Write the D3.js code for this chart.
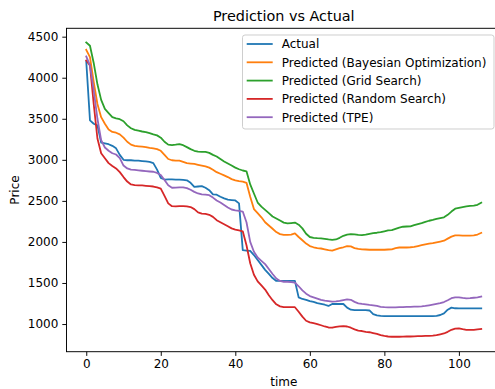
<!DOCTYPE html>
<html><head><meta charset="utf-8">
<script src="https://cdn.jsdelivr.net/npm/d3@7"></script>
<style>body{margin:0;background:#fff}svg{display:block;font-family:"DejaVu Sans",sans-serif}</style>
</head><body><svg id="c" width="495" height="389"></svg>
<script>
const seriesNames = ["Actual","Predicted (Bayesian Optimization)","Predicted (Grid Search)","Predicted (Random Search)","Predicted (TPE)"];
const colors = ["#1f77b4","#ff7f0e","#2ca02c","#d62728","#9467bd"];
const xTicks = [0,20,40,60,80,100];
const yTicks = [1000,1500,2000,2500,3000,3500,4000,4500];

const actual = [4200,3480,3440,3420,3210,3200,3190,3170,3140,3060,3000,2995,2995,2990,2990,2985,2980,2975,2960,2880,
2780,2760,2762,2762,2760,2760,2755,2750,2720,2670,2675,2680,2660,2630,2580,2575,2550,2530,2515,2510,
2505,2470,1900,1895,1890,1840,1780,1720,1660,1610,1560,1525,1525,1525,1525,1525,1525,1325,1305,1295,
1280,1270,1255,1245,1235,1220,1244,1244,1244,1244,1200,1175,1170,1170,1170,1170,1165,1120,1105,1100,
1097,1097,1096,1096,1096,1096,1096,1096,1096,1096,1096,1096,1097,1097,1100,1110,1130,1175,1200,1192,
1190,1190,1190,1190,1190,1190,1190];
const bayesian = [4340,4250,3950,3680,3520,3440,3370,3340,3330,3310,3270,3220,3185,3170,3165,3160,3155,3145,3140,3130,
3110,3060,3010,2995,2990,2990,2975,2960,2955,2950,2940,2930,2920,2905,2880,2850,2830,2810,2790,2765,
2750,2740,2735,2720,2550,2400,2350,2300,2240,2200,2160,2120,2095,2085,2085,2090,2105,2060,2020,1980,
1950,1935,1925,1920,1910,1900,1895,1910,1925,1935,1950,1945,1925,1915,1910,1908,1905,1905,1905,1905,
1905,1908,1910,1925,1932,1932,1932,1935,1940,1950,1960,1970,1978,1985,1995,2005,2015,2040,2065,2080,
2080,2078,2076,2076,2080,2090,2110];
const gridSearch = [4430,4390,4180,3920,3730,3620,3570,3520,3505,3495,3470,3420,3385,3365,3355,3345,3338,3325,3310,3298,
3270,3220,3185,3180,3185,3192,3178,3155,3130,3110,3100,3098,3098,3085,3060,3040,3010,2980,2955,2930,
2905,2885,2870,2860,2700,2590,2480,2430,2390,2350,2310,2285,2260,2235,2225,2230,2236,2210,2165,2100,
2060,2050,2046,2044,2038,2030,2024,2030,2050,2075,2090,2096,2092,2086,2084,2088,2098,2108,2112,2120,
2130,2140,2145,2160,2175,2185,2188,2190,2205,2218,2230,2245,2258,2268,2280,2290,2300,2330,2370,2405,
2415,2425,2432,2438,2443,2452,2478];
const randomSearch = [4210,4150,3680,3260,3080,3020,2960,2925,2895,2850,2790,2735,2700,2693,2690,2688,2684,2680,2675,2665,
2650,2560,2470,2435,2432,2437,2437,2432,2425,2400,2360,2345,2342,2330,2305,2265,2240,2215,2190,2165,
2150,2140,2130,1960,1740,1600,1520,1470,1420,1350,1290,1240,1215,1205,1205,1205,1205,1150,1090,1040,
1020,1010,1000,985,970,958,955,965,972,975,970,955,935,920,915,905,900,890,880,865,
855,848,845,845,845,846,848,848,850,852,853,855,856,860,866,875,885,905,930,945,
948,938,930,928,930,935,940];
const tpe = [4260,4150,3850,3500,3240,3150,3110,3080,3065,3020,2930,2895,2880,2878,2872,2867,2862,2858,2855,2840,
2815,2755,2690,2660,2662,2665,2665,2655,2635,2610,2590,2578,2575,2570,2540,2505,2480,2450,2420,2395,
2385,2378,2370,2240,2000,1880,1810,1770,1730,1670,1610,1555,1525,1515,1515,1510,1505,1460,1410,1370,
1340,1325,1310,1295,1285,1278,1272,1275,1282,1292,1300,1295,1270,1252,1245,1240,1233,1228,1220,1210,
1205,1203,1203,1203,1205,1207,1208,1210,1211,1212,1215,1220,1228,1236,1245,1255,1268,1290,1315,1325,
1325,1318,1313,1315,1320,1325,1335];

const allSeries = [actual,bayesian,gridSearch,randomSearch,tpe];

const svg = d3.select("#c");
const L = 66.5, R = 501, T = 28.3, B = 351.7;
const x = d3.scaleLinear().domain([-5.3,111.3]).range([L,R]);
const y = d3.scaleLinear().domain([663,4602]).range([B,T]);
const FS = 12;

svg.append("defs").append("clipPath").attr("id","clip")
  .append("rect").attr("x",L).attr("y",T).attr("width",R-L).attr("height",B-T);

const line = d3.line().x((d,i)=>x(i)).y(d=>y(d));
const g = svg.append("g").attr("clip-path","url(#clip)");
allSeries.forEach((s,k)=>{
  g.append("path").datum(s).attr("d",line).attr("fill","none")
   .attr("stroke",colors[k]).attr("stroke-width",1.8)
   .attr("stroke-linejoin","round").attr("stroke-linecap","square");
});

// axes
const xAxis = d3.axisBottom(x).tickValues(xTicks).tickSize(4.2).tickPadding(4).tickFormat(d3.format("d"));
const yAxis = d3.axisLeft(y).tickValues(yTicks).tickSize(4.2).tickPadding(4).tickFormat(d3.format("d"));
const gx = svg.append("g").attr("transform",`translate(0,${B})`).call(xAxis);
const gy = svg.append("g").attr("transform",`translate(${L},0)`).call(yAxis);
[gx,gy].forEach(a=>{
  a.select(".domain").remove();
  a.selectAll("text").attr("font-size",FS).attr("fill","#000").attr("font-family","DejaVu Sans");
  a.selectAll("line").attr("stroke","#000").attr("stroke-width",0.96);
});
// spines
svg.append("rect").attr("x",L).attr("y",T).attr("width",R-L).attr("height",B-T)
  .attr("fill","none").attr("stroke","#000").attr("stroke-width",0.96);

// labels
svg.append("text").attr("x",(L+R)/2).attr("y",21).attr("text-anchor","middle")
  .attr("font-size",14.4).text("Prediction vs Actual");
svg.append("text").attr("x",(L+R)/2).attr("y",386).attr("text-anchor","middle")
  .attr("font-size",FS).text("time");
svg.append("text").attr("transform",`translate(19,${(T+B)/2}) rotate(-90)`).attr("text-anchor","middle")
  .attr("font-size",FS).text("Price");

// legend
const lg = svg.append("g");
lg.append("rect").attr("x",242.5).attr("y",35).attr("width",251.5).attr("height",94)
  .attr("rx",2.5).attr("fill","#fff").attr("fill-opacity",0.8).attr("stroke","#ccc").attr("stroke-width",0.96);
seriesNames.forEach((n,k)=>{
  const yy = 44 + k*18.3;
  lg.append("line").attr("x1",246.7).attr("x2",272.7).attr("y1",yy).attr("y2",yy)
    .attr("stroke",colors[k]).attr("stroke-width",1.8);
  lg.append("text").attr("x",281.7).attr("y",yy).attr("dy","0.36em").attr("font-size",FS).text(n);
});
</script></body></html>
